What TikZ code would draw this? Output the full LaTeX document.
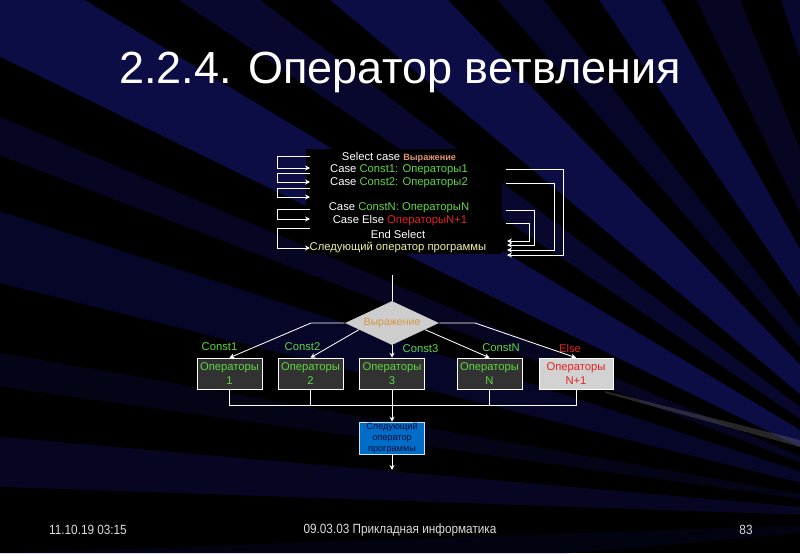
\documentclass[tikz,border=0pt]{standalone}
\usepackage{fontspec}
\setmainfont{Liberation Sans}
\newfontfamily\footfont[FakeStretch=0.88]{Liberation Sans}
\usetikzlibrary{arrows.meta, shapes.geometric, calc}

\definecolor{streak}{RGB}{20,22,115}
\definecolor{exprcol}{RGB}{225,150,110}
\definecolor{diatext}{RGB}{215,150,65}
\definecolor{codegreen}{RGB}{95,215,70}
\definecolor{codered}{RGB}{225,35,35}
\definecolor{nextyellow}{RGB}{240,240,170}
\definecolor{diagray}{RGB}{205,205,205}
\definecolor{boxgray}{RGB}{50,50,50}
\definecolor{elsegray}{RGB}{210,210,210}
\definecolor{nextblue}{RGB}{0,110,200}
\definecolor{nextnavy}{RGB}{0,10,55}
\definecolor{footgray}{RGB}{220,220,220}

\begin{document}
\begin{tikzpicture}[x=0.025cm, y=-0.025cm,
  arr/.style={-{Stealth[length=3.5pt,width=3.5pt]}},
  wire/.style={draw=white, line width=0.6pt},
  codeline/.style={inner sep=0pt, text=white, font=\fontsize{8}{9}\selectfont},
  lbl/.style={inner sep=0pt, text=codegreen, font=\fontsize{8}{9}\selectfont},
  opbox/.style={draw=white, fill=boxgray, minimum width=1.63cm, minimum height=0.775cm,
    inner sep=1pt, align=center, text=codegreen, font=\fontsize{8}{9.5}\selectfont},
  nextbox/.style={draw=white!80!nextblue, fill=nextblue, minimum width=1.63cm, minimum height=0.8cm,
    inner sep=0pt, align=center, text=nextnavy, font=\fontsize{6.5}{7.6}\selectfont},
  foot/.style={inner sep=0pt, text=footgray, font=\footfont\fontsize{9.5}{11}\selectfont}]

% fond noir avec des rayures bleues
\useasboundingbox (0,0) rectangle (800,553);
\fill[black] (0,0) rectangle (800,553);
\begin{scope}
  \clip (0,0) rectangle (800,553);
  \coordinate (vp) at (950,520);
  \foreach \a/\b/\o in {104/108/0.4, 112/116/0.3, 119/124/0.55, 128/131/0.35, 134/140/0.6,
      143/146/0.4, 149/154/0.6, 157/159/0.3, 162/166/0.35, 170/172/0.2, 175/178/0.3, 182/185/0.15}
    \fill[streak, opacity=\o] (vp) -- ($(vp)+(\a:40cm)$) -- ($(vp)+(\b:40cm)$) -- cycle;
  % trait gris a droite
  \fill[gray, opacity=0.3] (605,391) -- (800,440) -- (800,447) -- (605,393) -- cycle;
\end{scope}

% titre
\node[text=white, font=\fontsize{32}{36}\selectfont] (titre) at (400,72) {2.2.4. Оператор ветвления};

% texte du programme
\fill[black] (306,149) rectangle (502,254);
\node[codeline] (sel) at (399,157) {Select case \textcolor{exprcol}{\fontsize{6.5}{8}\selectfont\bfseries Выражение}};
\node[codeline] (c1) at (399,170) {Case \textcolor{codegreen}{Const1: Операторы1}};
\node[codeline] (c2) at (399,183) {Case \textcolor{codegreen}{Const2: Операторы2}};
\node[codeline] (cn) at (399,208) {Case \textcolor{codegreen}{ConstN: ОператорыN}};
\node[codeline] (celse) at (400,221) {Case Else \textcolor{codered}{ОператорыN+1}};
\node[codeline] (endsel) at (398,234) {End Select};
\node[codeline, text=nextyellow] (nextop) at (398,247) {Следующий оператор программы};

% fleches de gauche
\foreach \i/\ya/\yb in {1/156/168, 2/173/182, 3/188/197, 4/209/219, 5/228/248} {
  \coordinate (ls\i) at (310,\ya);
  \coordinate (le\i) at (310,\yb);
  \draw[wire, arr] (ls\i) -- (277,\ya) |- (le\i);
}

% fleches de droite
\foreach \i/\ya/\xv/\yb in {1/169/563/255, 2/183/554/250, 3/210/534/245, 4/223/529/241} {
  \coordinate (rs\i) at (506,\ya);
  \coordinate (re\i) at (507,\yb);
  \draw[wire, arr] (rs\i) -- (\xv,\ya) |- (re\i);
}

% losange
\node[diamond, aspect=2.14, minimum width=2.35cm, minimum height=1.1cm, inner sep=0pt,
  fill=diagray, text=diatext, font=\fontsize{7.5}{9}\selectfont] (expr) at (392,323) {Выражение};

% blocs operateurs
\node[opbox] (b1) at (229.5,373.5) {Операторы\\1};
\node[opbox] (b2) at (310.5,373.5) {Операторы\\2};
\node[opbox] (b3) at (392,373.5) {Операторы\\3};
\node[opbox] (bn) at (489.5,373.5) {Операторы\\N};
\node[opbox, fill=elsegray, text=codered, minimum width=1.85cm] (belse) at (576,373.5) {Операторы\\N+1};

% etiquettes
\node[lbl] (k1) at (219.5,347) {Const1};
\node[lbl] (k2) at (302.5,347) {Const2};
\node[lbl] (k3) at (420.5,349) {Const3};
\node[lbl] (kn) at (501,348) {ConstN};
\node[lbl, text=codered] (ke) at (570,348) {Else};

% liaisons
\coordinate (top) at (392,275);
\coordinate (kl) at (311,323);
\coordinate (kr) at (475,323);
\draw[wire] (top) -- (expr.north);
\draw[wire, arr] (expr.west) -- (kl) -- (b1.north);
\draw[wire, arr] ($(expr.west)!0.3!(expr.south)$) -- (b2.north);
\draw[wire, arr] (expr.south) -- (b3.north);
\draw[wire, arr] ($(expr.east)!0.3!(expr.south)$) -- (bn.north);
\draw[wire, arr] (expr.east) -- (kr) -- (belse.north);

% regroupement
\coordinate (join) at (392,405);
\draw[wire] (b1.south) -- (b1.south |- join) -- (belse.south |- join) -- (belse.south);
\foreach \b in {b2,b3,bn}
  \draw[wire] (\b.south) -- (\b.south |- join);

% operateur suivant
\node[nextbox] (suiv) at (392,438) {Следующий\\оператор\\программы};
\coordinate (fin) at (392,470);
\draw[wire, arr] (join) -- (suiv.north);
\draw[wire, arr] (suiv.south) -- (fin);

% pied de page
\node[foot] (date) at (88,530) {11.10.19 03:15};
\node[foot] (cours) at (400,530) {09.03.03 Прикладная информатика};
\node[foot] (page) at (746,530) {83};

\end{tikzpicture}
\end{document}
